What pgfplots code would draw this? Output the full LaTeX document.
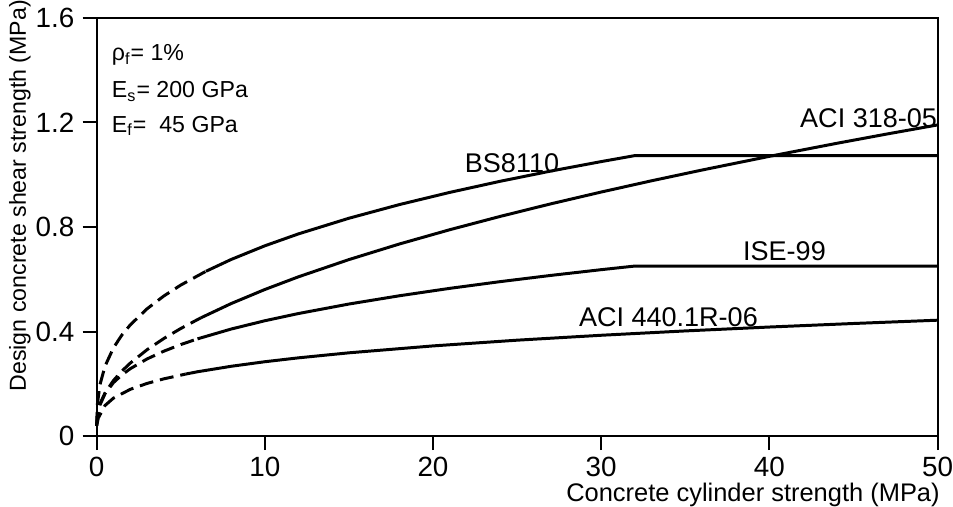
\documentclass[border=0pt]{standalone}
\usepackage{fontspec}
\setmainfont{Liberation Sans}
\usepackage{pgfplots}
\pgfplotsset{compat=1.18}
\newcommand{\fs}{\fontsize{11.65}{14}\selectfont}
\newcommand{\ft}{\fontsize{14}{16}\selectfont}
\newcommand{\fc}{\fontsize{13.6}{16}\selectfont}
\newcommand{\fx}{\fontsize{12.8}{15}\selectfont}
\begin{document}
\fs
\begin{tikzpicture}[font=\fs]
\begin{axis}[
  width=423pt, height=210.5pt, scale only axis,
  xmin=0, xmax=50, ymin=0, ymax=1.6,
  xtick={0,10,20,30,40,50}, xticklabels={0,10,20,30,40,50},
  ytick={0,0.4,0.8,1.2,1.6}, yticklabels={0,0.4,0.8,1.2,1.6},
  tick align=outside, xtick pos=left, ytick pos=left,
  major tick length=7pt,
  axis line style={line width=1pt},
  major tick style={draw=black, line width=1pt},
  tick label style={font=\ft},
  yticklabel style={anchor=east, inner sep=0pt, xshift=-4pt},
  xticklabel style={anchor=north, inner sep=0pt, yshift=-3.5pt},
  xlabel={Concrete cylinder strength (MPa)},
  ylabel={Design concrete shear strength (MPa)},
  xlabel style={font=\fx, at={(axis description cs:1.003,-0.14)}, anchor=east, inner sep=0pt},
  ylabel style={font=\fs, at={(axis description cs:-0.0912,0.575)}, anchor=center, inner sep=0pt},
  clip=false,
]
% invisible frame to keep the reference proportions
\path (rel axis cs:-0.1149,-0.1615) rectangle (rel axis cs:1.0142,1.0404);

% tick marks (outside, left and bottom)
\pgfplotsinvokeforeach{0,10,20,30,40,50}{\draw[line width=1pt] (axis cs:#1,0) -- ++(0,-7pt);}
\pgfplotsinvokeforeach{0,0.4,0.8,1.2,1.6}{\draw[line width=1pt] (axis cs:0,#1) -- ++(-7pt,0);}

% BS8110
\addplot[black, line width=1.5pt, dash pattern=on 7pt off 3.5pt] coordinates {
 (0,0.04) (0.05,0.1245) (0.2,0.1977) (0.5,0.2683) (1,0.338) (1.5,0.3869)
 (2,0.4258) (3,0.4875) (4,0.5365) (5,0.578) (6.5,0.6308)};
\addplot[black, line width=1.5pt] coordinates {
 (6.5,0.6308) (8,0.676) (10,0.7282) (12,0.7738) (15,0.8336) (18,0.8858)
 (21,0.9325) (24,0.975) (27,1.014) (30,1.0502) (32,1.0731) (50,1.0731)};

% ACI 318-05
\addplot[black, line width=1.5pt, dash pattern=on 7pt off 3.5pt] coordinates {
 (0,0.04) (0.05,0.088) (0.2,0.124) (0.5,0.1658) (1,0.213) (1.5,0.2492)
 (2,0.2797) (3,0.3309) (4,0.374) (5,0.412) (6.2,0.4529)};
\addplot[black, line width=1.5pt] coordinates {
 (6.2,0.4529) (8,0.5074) (10,0.5611) (12,0.6097) (15,0.6755) (18,0.7351)
 (21,0.7898) (24,0.8407) (27,0.8886) (30,0.9338) (33,0.9769) (36,1.018)
 (40,1.0703) (44,1.12) (47,1.1558) (50,1.1904)};

% ISE-99
\addplot[black, line width=1.5pt, dash pattern=on 7pt off 3.5pt] coordinates {
 (0,0.04) (0.05,0.0755) (0.2,0.1199) (0.5,0.1627) (1,0.205) (1.5,0.2347)
 (2,0.2583) (3,0.2957) (4,0.3254) (5,0.3506) (6,0.3725)};
\addplot[black, line width=1.5pt] coordinates {
 (6,0.3725) (8,0.41) (10,0.4417) (12,0.4693) (15,0.5056) (18,0.5372)
 (21,0.5656) (24,0.5913) (27,0.615) (30,0.637) (32,0.6508) (50,0.6508)};

% ACI 440.1R-06
\addplot[black, line width=1.5pt, dash pattern=on 7pt off 3.5pt] coordinates {
 (0,0.04) (0.05,0.0547) (0.1,0.0697) (0.5,0.1178) (1,0.1458) (2,0.1794)
 (3,0.2021) (4,0.2196) (5.3,0.2379)};
\addplot[black, line width=1.5pt] coordinates {
 (5.3,0.2379) (6,0.2467) (8,0.2676) (10,0.285) (12,0.2999) (15,0.3191)
 (20,0.3455) (25,0.3674) (30,0.3862) (35,0.4028) (40,0.4177) (45,0.4312)
 (50,0.4438)};

\node[font=\fc] at (axis cs:24.7,1.046) {BS8110};
\node[font=\fc] at (axis cs:45.9,1.218) {ACI 318-05};
\node[font=\fc] at (axis cs:40.9,0.707) {ISE-99};
\node[font=\fc] at (axis cs:34.0,0.457) {ACI 440.1R-06};

\node[anchor=base west, inner sep=0pt] at (axis cs:0.89,1.435) {ρ\textsubscript{f}= 1\%};
\node[anchor=base west, inner sep=0pt] at (axis cs:0.89,1.295) {E\textsubscript{s}= 200 GPa};
\node[anchor=base west, inner sep=0pt] at (axis cs:0.89,1.162) {E\textsubscript{f}=\ \ 45 GPa};
\end{axis}
\end{tikzpicture}
\end{document}
